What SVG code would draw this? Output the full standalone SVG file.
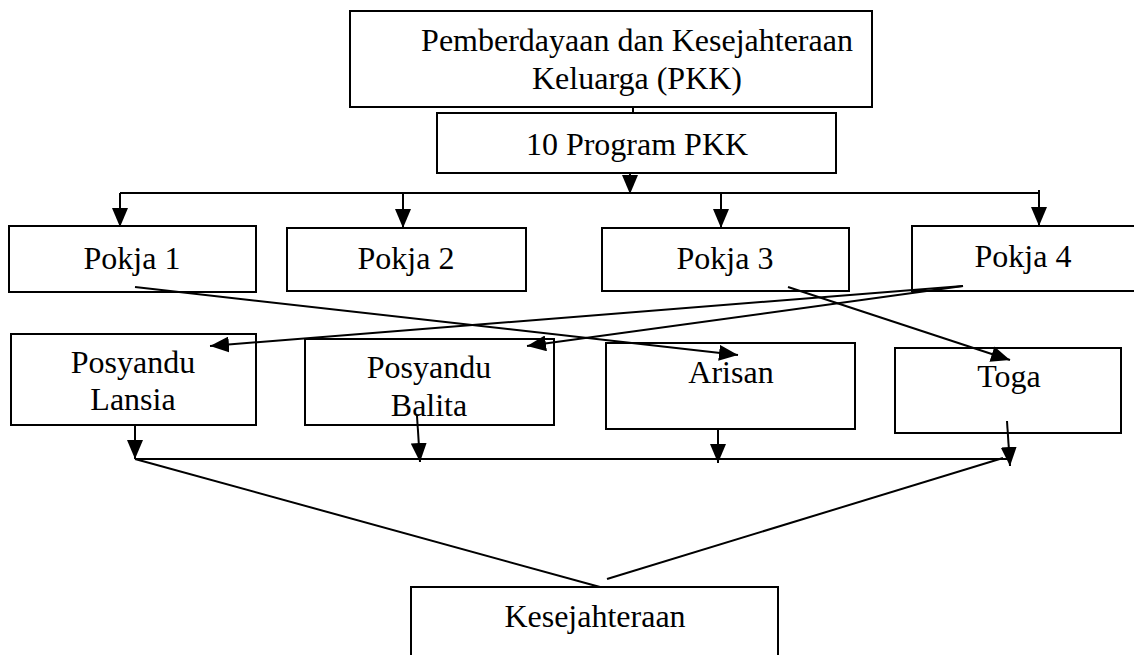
<svg xmlns="http://www.w3.org/2000/svg" width="1134" height="655" viewBox="0 0 1134 655">
<style>
.box{fill:#fff;stroke:#000;stroke-width:2}
.t{font-family:"Liberation Serif","Times New Roman",serif;font-size:32px;fill:#000;text-anchor:middle}
.c{fill:none;stroke:#000;stroke-width:2}
.a{fill:none;stroke:#000;stroke-width:2;marker-end:url(#ah)}
</style>
<defs>
<marker id="ah" markerUnits="userSpaceOnUse" markerWidth="19" markerHeight="16" refX="19" refY="8" orient="auto">
<path d="M0,0 L19,8 L0,16 z" fill="#000"/>
</marker>
</defs>
<rect width="1134" height="655" fill="#fff"/>
<g id="pkk"><rect class="box" x="350" y="11" width="522" height="96"/><text class="t" x="637" y="51">Pemberdayaan dan Kesejahteraan</text><text class="t" x="637" y="89">Keluarga (PKK)</text></g>
<g id="program"><rect class="box" x="437" y="113" width="399" height="60"/><text class="t" x="637" y="155">10 Program PKK</text></g>
<g id="pokja1"><rect class="box" x="9" y="226" width="247" height="66"/><text class="t" x="132" y="269">Pokja 1</text></g>
<g id="pokja2"><rect class="box" x="287" y="228" width="239" height="63"/><text class="t" x="406" y="269">Pokja 2</text></g>
<g id="pokja3"><rect class="box" x="602" y="228" width="247" height="63"/><text class="t" x="725" y="269">Pokja 3</text></g>
<g id="pokja4"><rect class="box" x="912" y="226" width="240" height="65"/><text class="t" x="1023" y="267">Pokja 4</text></g>
<g id="lansia"><rect class="box" x="11" y="334" width="245" height="91"/><text class="t" x="133" y="373">Posyandu</text><text class="t" x="133" y="410">Lansia</text></g>
<g id="balita"><rect class="box" x="305" y="339" width="249" height="86"/><text class="t" x="429" y="378">Posyandu</text><text class="t" x="429" y="416">Balita</text></g>
<g id="arisan"><rect class="box" x="606" y="343" width="249" height="86"/><text class="t" x="731" y="383">Arisan</text></g>
<g id="toga"><rect class="box" x="895" y="348" width="226" height="85"/><text class="t" x="1009" y="387">Toga</text></g>
<g id="kesejahteraan"><rect class="box" x="411" y="587" width="367" height="80"/><text class="t" x="595" y="627">Kesejahteraan</text></g>
<g id="connectors">
<line class="c" x1="633" y1="107" x2="633" y2="113"/>
<line class="a" x1="630" y1="173" x2="630" y2="194"/>
<polyline class="c" points="120,193 1039,193"/>
<line class="c" x1="1039" y1="190" x2="1039" y2="193"/>
<line class="a" x1="120" y1="193" x2="120" y2="227"/>
<line class="a" x1="403" y1="193" x2="403" y2="228"/>
<line class="a" x1="721" y1="193" x2="721" y2="228"/>
<line class="a" x1="1039" y1="193" x2="1039" y2="226"/>
<line class="a" x1="135" y1="287" x2="738" y2="355"/>
<line class="a" x1="963" y1="286" x2="210" y2="346"/>
<line class="a" x1="963" y1="286" x2="527" y2="346"/>
<line class="a" x1="788" y1="287" x2="1010" y2="360"/>
<line class="a" x1="135" y1="425" x2="135" y2="459"/>
<line class="a" x1="417" y1="416" x2="420" y2="462"/>
<line class="a" x1="718" y1="429" x2="718" y2="463"/>
<line class="a" x1="1007" y1="421" x2="1010" y2="466"/>
<line class="c" x1="135" y1="459" x2="1007" y2="459"/>
<line class="c" x1="135" y1="459" x2="600" y2="587"/>
<line class="c" x1="1003" y1="458" x2="607" y2="579"/>
</g>
</svg>
